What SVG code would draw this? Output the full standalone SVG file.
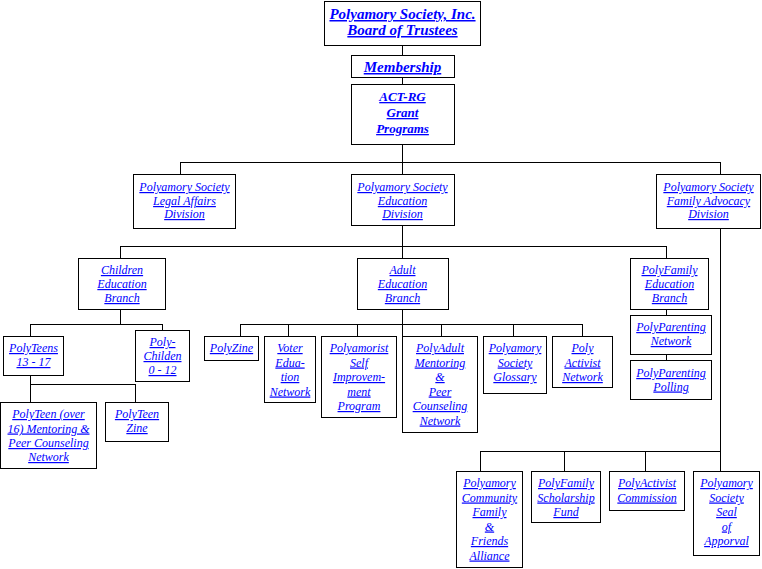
<svg xmlns="http://www.w3.org/2000/svg" width="762" height="569" viewBox="0 0 762 569">
<style>
.box{fill:#fff;stroke:#000;stroke-width:1;shape-rendering:crispEdges}
.ln{fill:none;stroke:#000;stroke-width:1;shape-rendering:crispEdges}
text{font-family:"Liberation Serif","Times New Roman",serif;font-style:italic;font-size:12px;fill:#00f;text-decoration:underline;text-anchor:middle}
.b{font-weight:bold;font-size:15px}
.m{font-weight:bold;font-size:13px}
</style>
<rect width="762" height="569" fill="#fff"/>
<g id="connectors">
<path class="ln" d="M402.5 45V55M402.5 77V84M402.5 144V174M180.5 162.5H720.5M180.5 162V174M720.5 162V174"/>
<path class="ln" d="M402.5 226V258M120.5 246.5H666.5M120.5 246V258M666.5 246V258"/>
<path class="ln" d="M120.5 310V324.5M30.5 324.5H162.5M30.5 324V336M162.5 324V330"/>
<path class="ln" d="M30.5 376V384.5H135.5V402M30.5 384V402"/>
<path class="ln" d="M402.5 310V336M240.5 324.5H582.5M240.5 324V336M288.5 324V336M357.5 324V336M441.5 324V336M513.5 324V336M582.5 324V336"/>
<path class="ln" d="M666.5 310V315M666.5 354V360"/>
<path class="ln" d="M720.5 229V471M480.5 451.5H720.5M480.5 451V471M564.5 451V471M645.5 451V471"/>
</g>
<g id="board"><rect class="box" x="324.5" y="1.5" width="156" height="44"/><text class="b" x="402.5" y="19">Polyamory Society, Inc.</text><text class="b" x="402.5" y="35">Board of Trustees</text></g>
<g id="membership"><rect class="box" x="351.5" y="55.5" width="103" height="22"/><text class="b" x="402.5" y="72">Membership</text></g>
<g id="actrg"><rect class="box" x="351.5" y="84.5" width="103" height="60"/><text class="m" x="402.5" y="101">ACT-RG</text><text class="m" x="402.5" y="117">Grant</text><text class="m" x="402.5" y="133">Programs</text></g>
<g id="legal"><rect class="box" x="133.5" y="174.5" width="102" height="54"/><text x="184.5" y="191">Polyamory Society</text><text x="184.5" y="205">Legal Affairs</text><text x="184.5" y="218">Division</text></g>
<g id="education"><rect class="box" x="351.5" y="174.5" width="103" height="51"/><text x="402.5" y="191">Polyamory Society</text><text x="402.5" y="205">Education</text><text x="402.5" y="218">Division</text></g>
<g id="family"><rect class="box" x="656.5" y="174.5" width="104" height="54"/><text x="708.5" y="191">Polyamory Society</text><text x="708.5" y="205">Family Advocacy</text><text x="708.5" y="218">Division</text></g>
<g id="children"><rect class="box" x="78.5" y="258.5" width="87" height="51"/><text x="122" y="274">Children</text><text x="122" y="288">Education</text><text x="122" y="302">Branch</text></g>
<g id="adult"><rect class="box" x="357.5" y="258.5" width="91" height="51"/><text x="402.5" y="274">Adult</text><text x="402.5" y="288">Education</text><text x="402.5" y="302">Branch</text></g>
<g id="polyfamily"><rect class="box" x="630.5" y="258.5" width="78" height="51"/><text x="669.5" y="274">PolyFamily</text><text x="669.5" y="288">Education</text><text x="669.5" y="302">Branch</text></g>
<g id="polyteens"><rect class="box" x="3.5" y="336.5" width="60" height="39"/><text x="33.5" y="352">PolyTeens</text><text x="33.5" y="366">13 - 17</text></g>
<g id="polychildren"><rect class="box" x="135.5" y="330.5" width="54" height="51"/><text x="162.5" y="346">Poly-</text><text x="162.5" y="360">Childen</text><text x="162.5" y="374">0 - 12</text></g>
<g id="teenmentoring"><rect class="box" x="0.5" y="402.5" width="96" height="66"/><text x="48.5" y="418">PolyTeen (over</text><text x="48.5" y="432.5">16) Mentoring &amp;</text><text x="48.5" y="447">Peer Counseling</text><text x="48.5" y="461">Network</text></g>
<g id="teenzine"><rect class="box" x="105.5" y="402.5" width="63" height="39"/><text x="137" y="418">PolyTeen</text><text x="137" y="432">Zine</text></g>
<g id="polyzine"><rect class="box" x="204.5" y="336.5" width="54" height="24"/><text x="231.5" y="352">PolyZine</text></g>
<g id="voter"><rect class="box" x="264.5" y="336.5" width="51" height="66"/><text x="290" y="352">Voter</text><text x="290" y="366.5">Edua-</text><text x="290" y="381">tion</text><text x="290" y="395.5">Network</text></g>
<g id="selfimprovement"><rect class="box" x="321.5" y="336.5" width="75" height="81"/><text x="359" y="352">Polyamorist</text><text x="359" y="366.5">Self</text><text x="359" y="381">Improvem-</text><text x="359" y="395.5">ment</text><text x="359" y="410">Program</text></g>
<g id="adultmentoring"><rect class="box" x="402.5" y="336.5" width="75" height="96"/><text x="440" y="352">PolyAdult</text><text x="440" y="366.5">Mentoring</text><text x="440" y="381">&amp;</text><text x="440" y="395.5">Peer</text><text x="440" y="410">Counseling</text><text x="440" y="424.5">Network</text></g>
<g id="glossary"><rect class="box" x="483.5" y="336.5" width="63" height="57"/><text x="515" y="352">Polyamory</text><text x="515" y="366.5">Society</text><text x="515" y="381">Glossary</text></g>
<g id="activistnetwork"><rect class="box" x="552.5" y="336.5" width="60" height="51"/><text x="582.5" y="352">Poly</text><text x="582.5" y="366.5">Activist</text><text x="582.5" y="381">Network</text></g>
<g id="parentingnetwork"><rect class="box" x="630.5" y="315.5" width="81" height="39"/><text x="671" y="331">PolyParenting</text><text x="671" y="345">Network</text></g>
<g id="parentingpolling"><rect class="box" x="630.5" y="360.5" width="81" height="39"/><text x="671" y="377">PolyParenting</text><text x="671" y="390.5">Polling</text></g>
<g id="community"><rect class="box" x="456.5" y="471.5" width="66" height="96"/><text x="489.5" y="487">Polyamory</text><text x="489.5" y="501.5">Community</text><text x="489.5" y="516">Family</text><text x="489.5" y="530.5">&amp;</text><text x="489.5" y="545">Friends</text><text x="489.5" y="559.5">Alliance</text></g>
<g id="scholarship"><rect class="box" x="531.5" y="471.5" width="69" height="51"/><text x="566" y="487">PolyFamily</text><text x="566" y="501.5">Scholarship</text><text x="566" y="516">Fund</text></g>
<g id="commission"><rect class="box" x="609.5" y="471.5" width="75" height="39"/><text x="647" y="487">PolyActivist</text><text x="647" y="501.5">Commission</text></g>
<g id="seal"><rect class="box" x="693.5" y="471.5" width="66" height="84"/><text x="726.5" y="487">Polyamory</text><text x="726.5" y="501.5">Society</text><text x="726.5" y="516">Seal</text><text x="726.5" y="530.5">of</text><text x="726.5" y="545">Apporval</text></g>
</svg>
